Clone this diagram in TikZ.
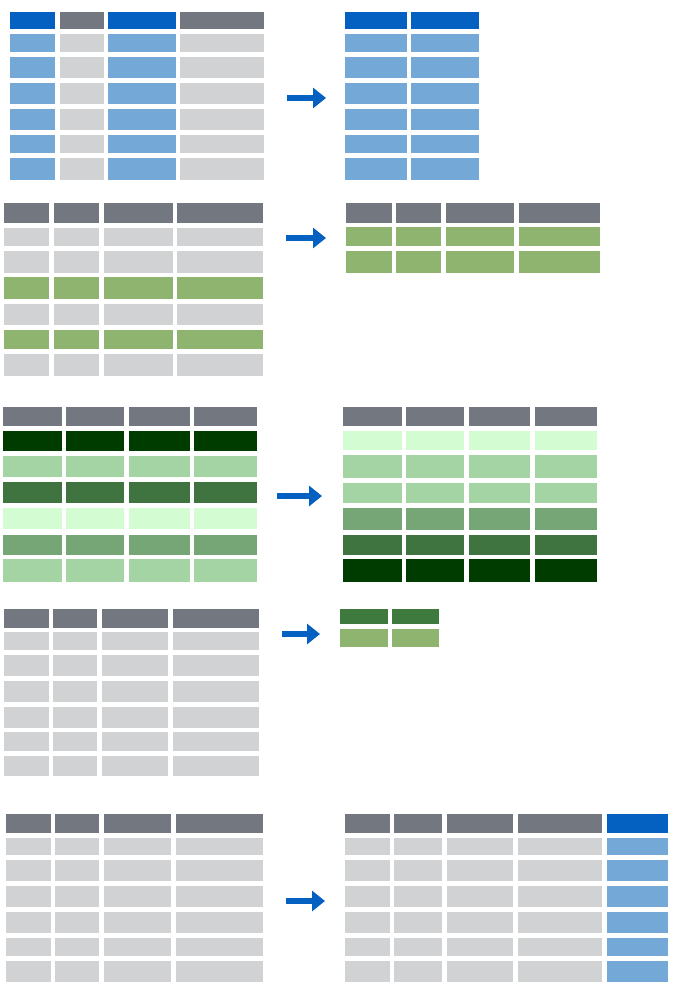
\documentclass[tikz,border=0pt]{standalone}
\usetikzlibrary{arrows.meta}
\definecolor{blueH}{HTML}{0561C1}
\definecolor{blueL}{HTML}{74A8D6}
\definecolor{greyH}{HTML}{73777F}
\definecolor{greyL}{HTML}{D1D2D4}
\definecolor{greenM}{HTML}{8FB470}
\definecolor{gDarkest}{HTML}{003C00}
\definecolor{gDark}{HTML}{3F7440}
\definecolor{gMid}{HTML}{76A576}
\definecolor{gLight}{HTML}{A4D3A4}
\definecolor{gVLight}{HTML}{D3FCD3}
\definecolor{gDark4}{HTML}{3E7A3E}
\newcommand{\rowcells}[3]{% #1 = y1/y2 pair list, #2 colour, #3 columns
  \foreach \ya/\yb in {#1}{\foreach \xa/\xb in {#3}{\fill[#2] (\xa,\ya) rectangle (\xb,\yb);}}}
\tikzset{
  flow/.style={draw=blueH, line width=5.5pt,
    -{Triangle[length=13pt,width=20pt]}}
}
\begin{document}
\begin{tikzpicture}[x=1pt,y=-1pt]
\useasboundingbox (0,0) rectangle (679,997);
% ---------- panel 1 ----------
\rowcells{12/29}{blueH}{10/55,108/176}
\rowcells{12/29}{greyH}{60/104,180/264}
\rowcells{34/52,57/78,83/104,109/130,135/153,158/180}{blueL}{10/55,108/176}
\rowcells{34/52,57/78,83/104,109/130,135/153,158/180}{greyL}{60/104,180/264}
\rowcells{12/29}{blueH}{345/407,411/479}
\rowcells{34/52,57/78,83/104,109/130,135/153,158/180}{blueL}{345/407,411/479}
\coordinate (a1s) at (287,98); \coordinate (a1e) at (326,98);
\draw[flow] (a1s) -- (a1e);
% ---------- panel 2 ----------
\rowcells{203/223}{greyH}{4/49,54/99,104/173,177/263}
\rowcells{228/246,251/273,304/325,354/376}{greyL}{4/49,54/99,104/173,177/263}
\rowcells{277/299,330/349}{greenM}{4/49,54/99,104/173,177/263}
\rowcells{203/223}{greyH}{346/392,396/441,446/514,519/600}
\rowcells{227/246,251/273}{greenM}{346/392,396/441,446/514,519/600}
\coordinate (a2s) at (286,238); \coordinate (a2e) at (326,238);
\draw[flow] (a2s) -- (a2e);
% ---------- panel 3 ----------
\rowcells{407/426}{greyH}{3/62,66/124,129/190,194/257}
\rowcells{431/451}{gDarkest}{3/62,66/124,129/190,194/257}
\rowcells{456/477,559/582}{gLight}{3/62,66/124,129/190,194/257}
\rowcells{482/503}{gDark}{3/62,66/124,129/190,194/257}
\rowcells{508/529}{gVLight}{3/62,66/124,129/190,194/257}
\rowcells{535/555}{gMid}{3/62,66/124,129/190,194/257}
\rowcells{407/426}{greyH}{343/402,406/464,469/530,535/597}
\rowcells{431/450}{gVLight}{343/402,406/464,469/530,535/597}
\rowcells{455/478,483/503}{gLight}{343/402,406/464,469/530,535/597}
\rowcells{508/530}{gMid}{343/402,406/464,469/530,535/597}
\rowcells{535/555}{gDark}{343/402,406/464,469/530,535/597}
\rowcells{559/582}{gDarkest}{343/402,406/464,469/530,535/597}
\coordinate (a3s) at (277,496); \coordinate (a3e) at (322,496);
\draw[flow] (a3s) -- (a3e);
% ---------- panel 4 ----------
\rowcells{609/628}{greyH}{4/49,53/97,102/168,173/259}
\rowcells{632/650,655/676,681/702,707/728,732/751,756/776}{greyL}{4/49,53/97,102/168,173/259}
\rowcells{609/624}{gDark4}{340/388,392/439}
\rowcells{629/647}{greenM}{340/388,392/439}
\coordinate (a4s) at (282,634); \coordinate (a4e) at (320,634);
\draw[flow] (a4s) -- (a4e);
% ---------- panel 5 ----------
\rowcells{814/833}{greyH}{6/51,55/99,104/171,176/263}
\rowcells{838/855,860/881,886/907,912/933,938/956,961/982}{greyL}{6/51,55/99,104/171,176/263}
\rowcells{814/833}{greyH}{345/390,394/442,447/513,518/602}
\rowcells{838/855,860/881,886/907,912/933,938/956,961/982}{greyL}{345/390,394/442,447/513,518/602}
\rowcells{814/833}{blueH}{607/668}
\rowcells{838/855,860/881,886/907,912/933,938/956,961/982}{blueL}{607/668}
\coordinate (a5s) at (286,901); \coordinate (a5e) at (325,901);
\draw[flow] (a5s) -- (a5e);
\end{tikzpicture}
\end{document}
